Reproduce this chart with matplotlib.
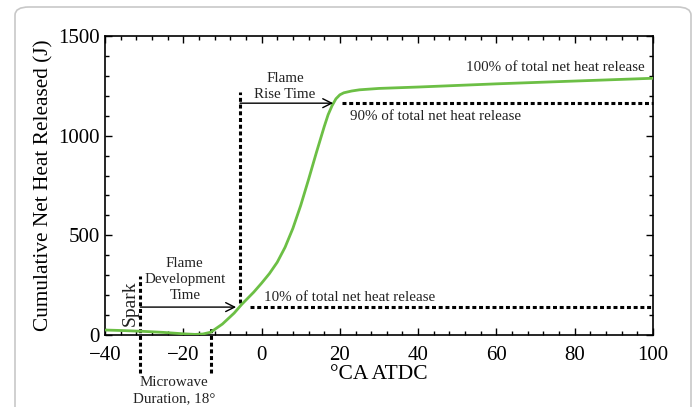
import numpy as np
import matplotlib
matplotlib.use('Agg')
import matplotlib.pyplot as plt
from matplotlib.patches import FancyBboxPatch
from matplotlib.ticker import MultipleLocator

# crank angle (deg ATDC) and cumulative net heat release (J)
crank_angle = [-40, -35, -30, -25, -20, -17, -15, -13, -10, -7, -5, -2, 0, 2, 4, 6, 8,
               10, 12, 14, 16, 17, 18, 19, 20, 21, 23, 25, 30, 40, 50, 60, 70, 80, 90, 100]
heat_release = [25, 22, 18, 13, 6, 3, 5, 14, 55, 110, 155, 215, 260, 308, 365, 440, 535,
                650, 780, 915, 1045, 1105, 1150, 1185, 1205, 1215, 1224, 1230, 1237,
                1244, 1252, 1260, 1267, 1274, 1281, 1288]

spark_ca = -31
mw_end_ca = -13
ca10 = -5.5
ca90 = 20.5
q10 = 140
q90 = 1163

plt.rcParams['font.family'] = ['Liberation Serif', 'DejaVu Serif']

fig = plt.figure(figsize=(6.97, 4.07), dpi=100)
# rounded panel frame
fig.patches.append(FancyBboxPatch((15 / 697, -0.1), 676 / 697, 1 - 7 / 407 + 0.1,
                                  boxstyle='round,pad=0,rounding_size=0.02',
                                  transform=fig.transFigure, fc='none',
                                  ec='#c8c8c8', lw=1.2))
ax = fig.add_axes([105 / 697, 1 - 335 / 407, 548 / 697, 299 / 407])

ax.plot(crank_angle, heat_release, color='#6cbf45', lw=2.0, zorder=3)

dot = dict(color='black', lw=2.2, linestyle=(0, (1.3, 0.9)), clip_on=False)
# spark and microwave duration
ax.plot([spark_ca, spark_ca], [-190, 295], **dot)
ax.plot([mw_end_ca, mw_end_ca], [-190, 45], **dot)
# 10% and 90% levels
ax.plot([ca10, ca10], [q10 + 20, 1220], **dot)
ax.plot([-3, 100], [q10, q10], **dot)
ax.plot([ca90, 100], [q90, q90], **dot)

arrow = dict(arrowstyle='->', color='black', lw=1.0, mutation_scale=16, shrinkA=0, shrinkB=0)
ax.annotate('', xy=(-6.5, q10), xytext=(spark_ca, q10), arrowprops=arrow)
ax.annotate('', xy=(18.3, q90), xytext=(ca10, q90), arrowprops=arrow)

fs = 10.8
tc = '#222222'
ax.text(6, 1249, 'Flame\nRise Time', ha='center', va='center', fontsize=fs,
        color=tc, linespacing=1.3)
ax.text(-19.6, 276, 'Flame\nDevelopment\nTime', ha='center', va='center', fontsize=fs,
        color=tc, linespacing=1.3)
ax.text(-33.6, 160, 'Spark', rotation=90, ha='center', va='center', fontsize=14,
        color=tc)
ax.text(0.6, 155, '10% of total net heat release', ha='left', va='bottom', fontsize=fs,
        color=tc)
ax.text(22.5, 1130, '90% of total net heat release', ha='left', va='top', fontsize=fs,
        color=tc)
ax.text(97.8, 1310, '100% of total net heat release', ha='right', va='bottom', fontsize=fs,
        color=tc)
ax.text(-22.4, -278, 'Microwave\nDuration, 18°', ha='center', va='center', fontsize=fs,
        color=tc, linespacing=1.35)

ax.set_xlim(-40, 100)
ax.set_ylim(0, 1500)
ax.xaxis.set_major_locator(MultipleLocator(20))
ax.xaxis.set_minor_locator(MultipleLocator(4))
ax.yaxis.set_major_locator(MultipleLocator(500))
ax.yaxis.set_minor_locator(MultipleLocator(100))
ax.tick_params(which='both', direction='in', top=True, right=True, labelsize=15,
               width=1.0)
ax.tick_params(axis='x', pad=8)
ax.tick_params(axis='y', pad=4)
ax.tick_params(which='major', length=5)
ax.tick_params(which='minor', length=3)
for s in ax.spines.values():
    s.set_linewidth(1.2)

ax.set_xlabel('°CA ATDC', fontsize=15.5, labelpad=0)
ax.set_ylabel('Cumulative Net Heat Released (J)', fontsize=15.3, labelpad=3)

fig.savefig('out.png', dpi=100)
